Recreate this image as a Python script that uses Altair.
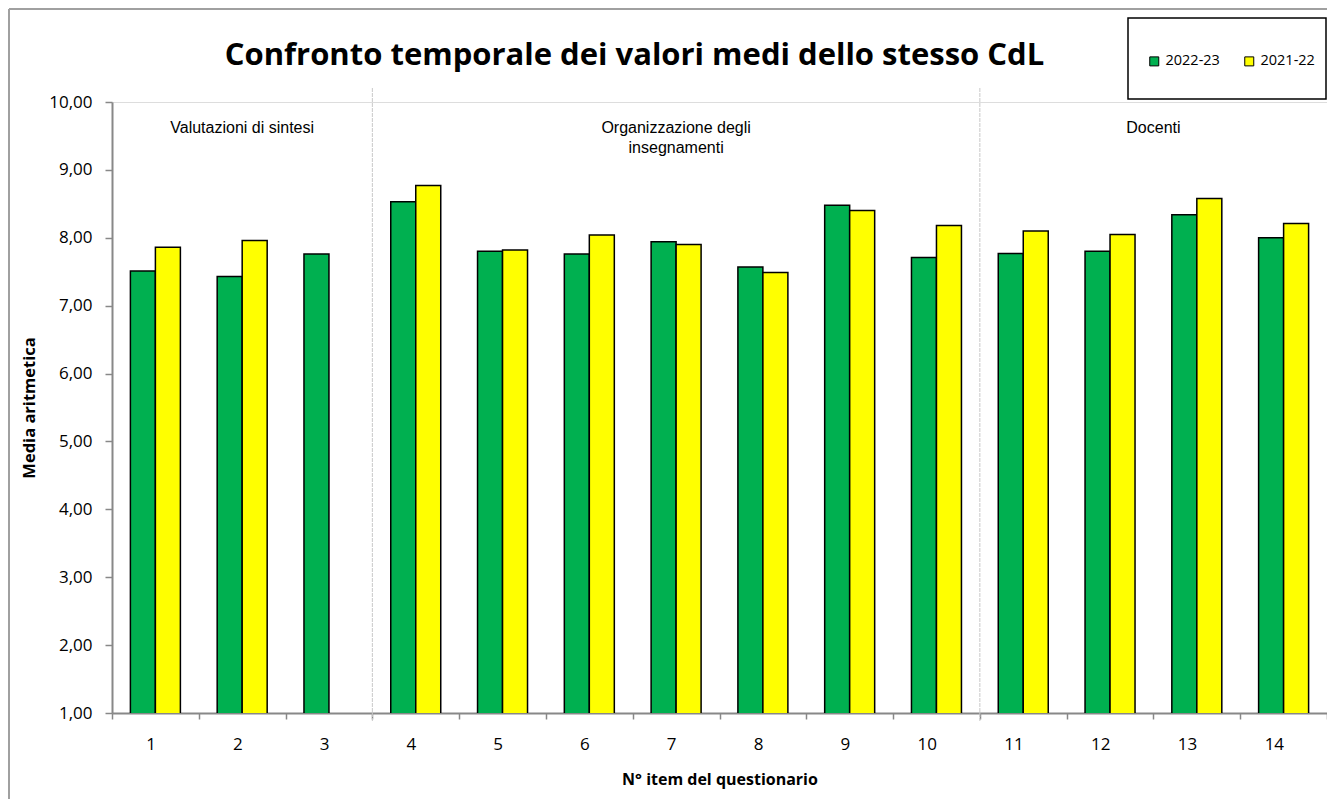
import altair as alt
import pandas as pd

categories = [str(i) for i in range(1, 15)]
series_names = ["2022-23", "2021-22"]
values_2022_23 = [7.51, 7.43, 7.76, 8.53, 7.80, 7.76, 7.94, 7.57, 8.48, 7.71, 7.77, 7.80, 8.34, 8.00]
values_2021_22 = [7.86, 7.96, None, 8.77, 7.82, 8.04, 7.90, 7.49, 8.40, 8.18, 8.10, 8.05, 8.58, 8.21]
y_ticks = [1, 2, 3, 4, 5, 6, 7, 8, 9, 10]
section_cats = ["2", "7"]
section_labels = ["Valutazioni di sintesi", "Organizzazione degli\ninsegnamenti"]
section_edge_cats = ["13"]
section_edge_labels = ["Docenti"]
separator_cats = ["4", "11"]
colors = ["#00B050", "#FFFF00"]

rows = []
for c, a, b in zip(categories, values_2022_23, values_2021_22):
    rows.append({"item": c, "anno": series_names[0], "media": a})
    if b is not None:
        rows.append({"item": c, "anno": series_names[1], "media": b})
df = pd.DataFrame(rows)

W, H = 1215, 611
PL, PT, PR, PB = 104, 94, 0, 86

xscale = alt.Scale(domain=categories, paddingInner=0, paddingOuter=0)

x_axis = alt.Axis(
    title="N° item del questionario", labelAngle=0, tickBand="extent",
    labelFont="Open Sans", labelFontSize=17, labelColor="black", labelPadding=25,
    titleFont="Open Sans", titleFontSize=16, titleFontWeight="bold", titleColor="black",
    titlePadding=19, domainColor="#888888", domainWidth=2, tickColor="#888888",
    tickSize=6, tickWidth=1.5,
)
y_axis = alt.Axis(
    title="Media aritmetica", values=y_ticks, grid=False,
    labelExpr="replace(format(datum.value, '.2f'), '.', ',')",
    labelFont="Open Sans", labelFontSize=17, labelColor="black", labelPadding=13,
    titleFont="Open Sans", titleFontSize=16.5, titleFontWeight="bold", titleColor="black",
    titlePadding=11, domainColor="#888888", domainWidth=2, tickColor="#888888",
    tickSize=7, tickWidth=1.5,
)

bars = alt.Chart(df).mark_bar(stroke="black", strokeWidth=1.5, clip=True).encode(
    x=alt.X("item:N", scale=xscale, sort=categories, axis=x_axis),
    xOffset=alt.XOffset("anno:N", sort=series_names,
                        scale=alt.Scale(domain=series_names, paddingInner=0, paddingOuter=0.736)),
    y=alt.Y("media:Q", scale=alt.Scale(domain=[1, 10], nice=False, zero=False), axis=y_axis),
    color=alt.Color(
        "anno:N", sort=series_names,
        scale=alt.Scale(domain=series_names, range=colors),
        legend=alt.Legend(
            title=None, orient="none", direction="horizontal",
            legendX=1035, legendY=-48, symbolType="square", symbolSize=81,
            symbolStrokeColor="black", symbolStrokeWidth=1, symbolOpacity=1,
            labelFont="Open Sans", labelFontSize=14.5, labelColor="black",
            labelOffset=4, columnPadding=22, padding=0,
        ),
    ),
)

sep_df = pd.DataFrame({"item": separator_cats})
seps = alt.Chart(sep_df).mark_rule(color="#c8c8c8", strokeWidth=1, strokeDash=[4, 1]).encode(
    x=alt.X("item:N", scale=xscale, sort=categories, bandPosition=0),
    y=alt.value(-14),
    y2=alt.value(H + 8),
)

sec_df = pd.DataFrame({"item": section_cats, "label": section_labels})
secs = alt.Chart(sec_df).mark_text(
    font="Liberation Sans", fontSize=16, color="black", lineBreak="\n",
    baseline="middle", lineHeight=20,
).encode(
    x=alt.X("item:N", scale=xscale, sort=categories),
    y=alt.value(26),
    text="label:N",
)

sec2_df = pd.DataFrame({"item": section_edge_cats, "label": section_edge_labels})
secs2 = alt.Chart(sec2_df).mark_text(
    font="Liberation Sans", fontSize=16, color="black", baseline="middle",
).encode(
    x=alt.X("item:N", scale=xscale, sort=categories, bandPosition=0),
    y=alt.value(26),
    text="label:N",
)

one = pd.DataFrame({"k": [0]})
legend_box = alt.Chart(one).mark_rect(fill="white", stroke="black", strokeWidth=1.5).encode(
    x=alt.value(1016), x2=alt.value(1214), y=alt.value(-84), y2=alt.value(-3),
)
frame_left = alt.Chart(one).mark_rule(color="#a0a0a0", strokeWidth=2).encode(
    x=alt.value(-103), y=alt.value(-93), y2=alt.value(H + PB),
)
frame_top = alt.Chart(one).mark_rule(color="#a0a0a0", strokeWidth=2).encode(
    x=alt.value(-103), x2=alt.value(W), y=alt.value(-93),
)

chart = alt.layer(frame_left, frame_top, legend_box, seps, bars, secs, secs2).properties(
    width=W, height=H,
    autosize=alt.AutoSizeParams(type="none"),
    padding={"left": PL, "top": PT, "right": PR, "bottom": PB},
    title=alt.TitleParams(
        "Confronto temporale dei valori medi dello stesso CdL",
        font="Open Sans", fontSize=31, fontWeight="bold", color="black",
        anchor="middle", frame="group", dx=-85, offset=-95, baseline="bottom",
    ),
).configure_view(stroke="#333333", strokeWidth=1.5).configure(background="white")

chart.save("out.html", embed_options={"renderer": "svg", "actions": False})
